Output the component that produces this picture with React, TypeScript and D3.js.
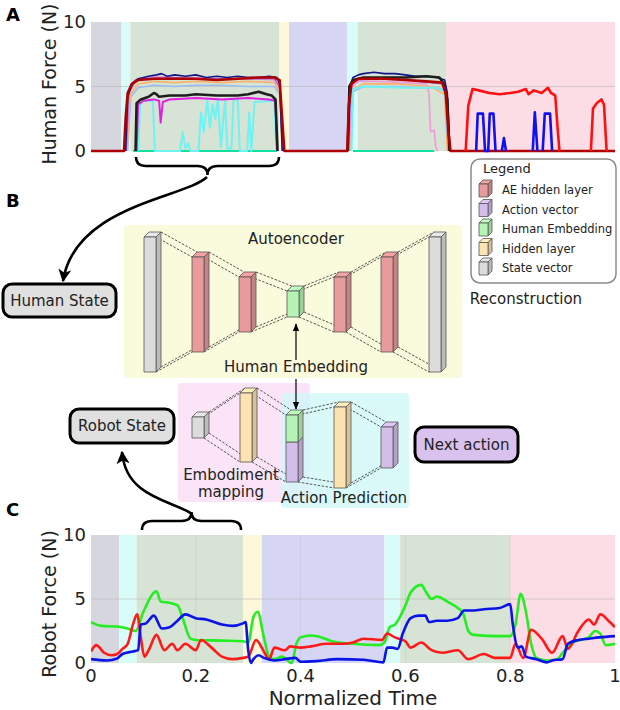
import React from 'react';
import * as d3 from 'd3';

type P = [number, number] | null;

// ---------- Panel A data (time fraction, force N) ----------
const bandEdgesA = [0, 0.058, 0.075, 0.359, 0.378, 0.489, 0.509, 0.678, 1];
const bandEdgesC = [0, 0.054, 0.087, 0.29, 0.326, 0.56, 0.59, 0.8, 1];
const phaseColors = ['#d6d6de', '#d8fcf7', '#d7e3d4', '#fcf8d9', '#d6d5f4', '#d8fcf7', '#d7e3d4', '#fddde5'];
const yTicks = [0, 5, 10];
const xTicksC = [0, 0.2, 0.4, 0.6, 0.8, 1];
const xTickLabelsC = ['0', '0.2', '0.4', '0.6', '0.8', '1'];

const navyA: P[] = [[0.066,0],[0.07,4.2],[0.08,5.3],[0.09,5.6],[0.1,5.7],[0.11,5.8],[0.125,5.9],[0.135,6.0],[0.145,5.8],[0.16,5.9],[0.18,5.8],[0.2,5.9],[0.22,5.7],[0.24,5.8],[0.26,5.7],[0.28,5.8],[0.3,5.7],[0.32,5.7],[0.34,5.8],[0.355,5.7],[0.36,5.2],[0.365,0],null,[0.49,0],[0.494,5.0],[0.5,5.7],[0.51,5.9],[0.52,6.0],[0.54,6.1],[0.56,6.0],[0.58,6.0],[0.6,5.9],[0.62,5.8],[0.64,5.8],[0.66,5.7],[0.675,5.5],[0.68,4.5],[0.685,0]];
const purpleA: P[] = [[0.067,0],[0.072,4.5],[0.085,5.5],[0.1,5.6],[0.15,5.7],[0.2,5.6],[0.25,5.6],[0.3,5.6],[0.35,5.6],[0.36,5.0],[0.366,0],null,[0.491,0],[0.496,5.0],[0.505,5.5],[0.55,5.6],[0.6,5.5],[0.65,5.3],[0.675,5.2],[0.682,0]];
const pinkA: P[] = [[0.068,0],[0.073,4.6],[0.09,5.6],[0.12,5.8],[0.16,5.7],[0.2,5.7],[0.25,5.6],[0.3,5.6],[0.35,5.5],[0.36,4.8],[0.366,0],null,[0.493,0],[0.498,4.9],[0.51,5.4],[0.55,5.4],[0.6,5.3],[0.64,5.2],[0.645,4.5],[0.648,1.5],[0.655,1.6],[0.658,0.3],[0.662,0]];
const orangeA: P[] = [[0.069,0],[0.075,4.4],[0.09,5.2],[0.12,5.4],[0.16,5.3],[0.2,5.4],[0.25,5.3],[0.3,5.4],[0.35,5.3],[0.36,4.6],[0.366,0],null,[0.494,0],[0.5,4.8],[0.52,5.2],[0.58,5.2],[0.62,5.1],[0.65,5.0],[0.665,4.6],[0.675,4.4],[0.68,0]];
const lightBlueA: P[] = [[0.07,0],[0.076,4.2],[0.09,4.9],[0.12,5.1],[0.16,5.0],[0.2,5.1],[0.25,5.1],[0.3,5.0],[0.35,5.0],[0.36,4.4],[0.366,0],null,[0.496,0],[0.5,4.6],[0.52,5.0],[0.58,5.0],[0.62,4.9],[0.66,4.9],[0.675,4.7],[0.683,0]];
const blackA: P[] = [[0.085,0],[0.087,3.7],[0.095,4.0],[0.11,4.2],[0.12,4.5],[0.125,4.4],[0.13,4.2],[0.15,4.3],[0.18,4.3],[0.2,4.4],[0.24,4.3],[0.28,4.3],[0.3,4.4],[0.32,4.6],[0.335,4.4],[0.345,4.3],[0.352,4.0],[0.356,0],null,[0.49,0],[0.493,5.0],[0.5,5.5],[0.52,5.7],[0.56,5.7],[0.6,5.7],[0.64,5.8],[0.665,5.7],[0.672,5.3],[0.68,4.0],[0.684,0]];
const magentaA: P[] = [[0.087,0],[0.09,3.6],[0.1,3.9],[0.12,4.0],[0.13,3.9],[0.133,2.2],[0.137,3.8],[0.15,4.0],[0.2,4.1],[0.25,4.0],[0.3,4.1],[0.34,4.0],[0.352,3.9],[0.355,0]];
const cyanA: P[] = [[0.09,0],[0.094,3.6],[0.1,3.9],[0.118,3.9],[0.122,0],[0.17,0],[0.175,1.5],[0.18,0.2],[0.185,0.6],[0.19,0],[0.205,0],[0.21,3.0],[0.215,1.5],[0.222,3.9],[0.227,1.8],[0.232,3.6],[0.237,2.5],[0.242,4.0],[0.248,0.3],[0.256,4.0],[0.26,0.2],[0.268,0.2],[0.272,4.0],[0.28,4.0],[0.284,0],[0.298,0],[0.302,3.0],[0.306,0],[0.312,3.8],[0.35,3.9],[0.354,0],null,[0.497,0],[0.5,4.8],[0.52,5.0],[0.6,4.9],[0.66,4.9],[0.676,4.6],[0.683,0]];
const aquaA: P[] = [[0.08,0],[0.355,0],null,[0.5,0],[0.655,0]];
const darkRedA: P[] = [[0,0],[0.063,0],[0.066,2.5],[0.07,4.5],[0.078,5.2],[0.09,5.5],[0.12,5.6],[0.16,5.6],[0.2,5.6],[0.24,5.5],[0.28,5.6],[0.32,5.7],[0.35,5.7],[0.36,5.5],[0.364,3.0],[0.369,0],[0.489,0],[0.492,3.5],[0.497,5.2],[0.51,5.6],[0.56,5.6],[0.6,5.5],[0.64,5.4],[0.67,5.3],[0.677,4.5],[0.682,1.5],[0.686,0],[1,0]];
const redA: P[] = [[0.715,0],[0.72,3.5],[0.728,4.8],[0.74,4.7],[0.76,4.5],[0.78,4.4],[0.8,4.5],[0.815,4.6],[0.83,4.8],[0.835,4.4],[0.845,4.7],[0.86,4.5],[0.872,4.9],[0.878,4.5],[0.886,4.3],[0.89,2.0],[0.894,0],null,[0.954,0],[0.958,3.3],[0.965,3.7],[0.974,4.0],[0.979,3.6],[0.984,0]];
const blueA: P[] = [[0.735,0],[0.738,2.9],[0.748,2.9],[0.752,0],[0.758,0],[0.761,2.9],[0.768,2.9],[0.772,0],null,[0.784,0],[0.788,1.0],[0.792,0],null,[0.843,0],[0.847,3.0],[0.852,0],null,[0.862,0],[0.866,2.9],[0.876,2.9],[0.88,0]];

// ---------- Panel C data ----------
const greenC: P[] = [[0,3.2],[0.02,2.9],[0.05,2.85],[0.07,2.7],[0.085,2.5],[0.1,4.0],[0.125,5.6],[0.133,4.8],[0.15,4.7],[0.165,4.5],[0.175,3.5],[0.19,1.9],[0.2,1.8],[0.25,1.75],[0.29,1.7],[0.3,1.6],[0.31,3.6],[0.318,4.0],[0.33,2.0],[0.34,0.5],[0.35,0.3],[0.365,0.5],[0.383,0.0],[0.392,1.5],[0.4,2.0],[0.42,2.15],[0.44,2.0],[0.46,1.7],[0.5,1.5],[0.55,1.4],[0.56,1.6],[0.57,2.8],[0.58,3.0],[0.6,4.5],[0.61,5.5],[0.63,6.1],[0.64,5.5],[0.65,5.0],[0.66,5.2],[0.68,4.8],[0.7,4.3],[0.71,3.9],[0.72,2.5],[0.73,2.2],[0.78,2.1],[0.8,2.1],[0.81,3.0],[0.82,5.4],[0.83,4.0],[0.84,1.5],[0.85,0.4],[0.87,0.2],[0.89,0.3],[0.9,0.8],[0.92,1.6],[0.95,2.0],[0.962,2.5],[0.972,2.3],[0.982,1.4],[1,1.5]];
const blueC: P[] = [[0,0.3],[0.03,0.2],[0.05,0.35],[0.06,0.7],[0.08,0.9],[0.09,1.0],[0.095,3.0],[0.105,3.1],[0.12,3.7],[0.135,2.7],[0.15,2.8],[0.165,3.3],[0.18,3.8],[0.2,3.5],[0.22,3.4],[0.25,3.0],[0.27,2.9],[0.29,3.1],[0.295,3.2],[0.3,1.0],[0.305,0.0],[0.31,0.3],[0.32,0.6],[0.33,0.4],[0.35,0.2],[0.37,0.3],[0.39,0.4],[0.4,0.1],[0.43,0.15],[0.47,0.3],[0.52,0.25],[0.558,0.05],[0.565,1.2],[0.575,1.2],[0.585,1.1],[0.595,2.3],[0.61,3.5],[0.625,3.7],[0.638,3.7],[0.645,3.2],[0.66,3.3],[0.68,3.3],[0.7,3.5],[0.712,4.1],[0.73,4.1],[0.75,4.2],[0.78,4.3],[0.8,4.6],[0.805,3.0],[0.815,1.2],[0.822,1.3],[0.83,0.5],[0.85,0.3],[0.87,0.05],[0.88,0.2],[0.9,0.3],[0.91,1.5],[0.93,1.8],[0.95,1.9],[0.97,2.0],[1,2.1]];
const redC: P[] = [[0,0.9],[0.01,1.4],[0.025,0.8],[0.04,0.6],[0.05,0.7],[0.06,1.1],[0.07,1.5],[0.08,3.0],[0.088,3.8],[0.095,2.0],[0.102,0.5],[0.11,1.0],[0.125,2.2],[0.14,1.0],[0.155,1.5],[0.165,1.0],[0.18,1.5],[0.2,1.0],[0.21,1.8],[0.23,1.2],[0.25,0.5],[0.27,0.3],[0.29,0.4],[0.3,0.5],[0.315,1.8],[0.33,0.9],[0.34,0.3],[0.35,1.2],[0.37,1.0],[0.38,1.3],[0.4,1.2],[0.42,1.3],[0.45,1.5],[0.48,1.5],[0.5,1.6],[0.52,1.9],[0.555,1.8],[0.565,2.3],[0.58,2.0],[0.6,1.7],[0.61,1.2],[0.63,1.6],[0.65,1.0],[0.67,0.8],[0.7,1.0],[0.72,0.3],[0.75,0.7],[0.77,0.4],[0.8,0.4],[0.81,1.5],[0.825,0.4],[0.84,2.6],[0.86,1.9],[0.88,0.8],[0.9,2.1],[0.91,1.1],[0.93,2.5],[0.95,3.4],[0.96,3.0],[0.972,3.8],[0.99,3.2],[1,2.8]];

// ---------- Legend ----------
const legendLabels = ['AE hidden layer', 'Action vector', 'Human Embedding', 'Hidden layer', 'State vector'];
const C_RED = '#e99a9c', C_PURPLE = '#d3bdea', C_GREEN = '#b5f4b5', C_YELLOW = '#fce3b1', C_GREY = '#dcdcdc';
const legendColors = [C_RED, C_PURPLE, C_GREEN, C_YELLOW, C_GREY];

const FONT = 'DejaVu Sans, sans-serif';

const xA = d3.scaleLinear().domain([0, 1]).range([91, 615]);
const yA = d3.scaleLinear().domain([0, 10]).range([151, 22]);
const xC = d3.scaleLinear().domain([0, 1]).range([91, 615]);
const yC = d3.scaleLinear().domain([0, 10]).range([663, 535]);

const lineA = d3.line<any>().defined((d) => d != null).x((d) => xA(d[0])).y((d) => yA(d[1]));
const lineC = d3.line<any>().defined((d) => d != null).x((d) => xC(d[0])).y((d) => yC(d[1])).curve(d3.curveMonotoneX);

function Box({ x, y, w, h, d, fill }: any) {
  const side = d3.color(fill)!.darker(0.45).toString();
  const top = d3.color(fill)!.brighter(0.15).toString();
  return (
    <g stroke="#555" strokeWidth={0.8} strokeLinejoin="round">
      <polygon points={`${x},${y} ${x + d},${y - d} ${x + w + d},${y - d} ${x + w},${y}`} fill={top} />
      <polygon points={`${x + w},${y} ${x + w + d},${y - d} ${x + w + d},${y + h - d} ${x + w},${y + h}`} fill={side} />
      <rect x={x} y={y} width={w} height={h} fill={fill} />
    </g>
  );
}

function Conn({ a, b, d }: any) {
  const segs = [
    [a.x + a.w, a.y, b.x, b.y],
    [a.x + a.w + d, a.y - d, b.x + d, b.y - d],
    [a.x + a.w, a.y + a.h, b.x, b.y + b.h],
    [a.x + a.w + d, a.y + a.h - d, b.x + d, b.y + b.h - d],
  ];
  return (
    <g stroke="#444" strokeWidth={0.9} strokeDasharray="2.5,1.5">
      {segs.map((s, i) => <line key={i} x1={s[0]} y1={s[1]} x2={s[2]} y2={s[3]} />)}
    </g>
  );
}

function brace(x1: number, x2: number, y0: number, dir: number) {
  const xm = (x1 + x2) / 2;
  const y1 = y0 + dir * 9;
  const y2 = y0 + dir * 18;
  const r = 10;
  return `M${x1},${y0} Q${x1},${y1} ${x1 + r},${y1} L${xm - r},${y1} Q${xm},${y1} ${xm},${y2} Q${xm},${y1} ${xm + r},${y1} L${x2 - r},${y1} Q${x2},${y1} ${x2},${y0}`;
}

function Bands({ edges, x, top, bottom }: any) {
  return (
    <g>
      {phaseColors.map((c, i) => (
        <rect key={i} x={x(edges[i])} y={top} width={x(edges[i + 1]) - x(edges[i])} height={bottom - top} fill={c} />
      ))}
    </g>
  );
}

export default function App() {
  const d = 5;
  const ae = [
    { x: 144, y: 237, w: 12, h: 135, fill: C_GREY },
    { x: 192, y: 257, w: 12, h: 95, fill: C_RED },
    { x: 239, y: 277, w: 12, h: 55, fill: C_RED },
    { x: 287, y: 291, w: 12, h: 26, fill: C_GREEN },
    { x: 334, y: 277, w: 12, h: 55, fill: C_RED },
    { x: 381, y: 257, w: 12, h: 95, fill: C_RED },
    { x: 429, y: 237, w: 12, h: 135, fill: C_GREY },
  ];
  const lgGrey = { x: 192, y: 417, w: 12, h: 21, fill: C_GREY };
  const lgY1 = { x: 240, y: 393, w: 12, h: 69, fill: C_YELLOW };
  const lgGreen = { x: 286, y: 415, w: 12, h: 27, fill: C_GREEN };
  const lgPurp = { x: 286, y: 442, w: 12, h: 40, fill: C_PURPLE };
  const lgComb = { x: 286, y: 415, w: 12, h: 67 };
  const lgY2 = { x: 334, y: 407, w: 12, h: 81, fill: C_YELLOW };
  const lgOut = { x: 381, y: 427, w: 12, h: 41, fill: C_PURPLE };

  const tracesA: [P[], string, number][] = [
    [lightBlueA, '#9bbcf2', 1.6],
    [orangeA, '#f7b46c', 1.6],
    [pinkA, '#f29ad8', 1.6],
    [purpleA, '#9c6fd0', 1.6],
    [navyA, '#141488', 1.6],
    [aquaA, '#10e0a0', 2.2],
    [cyanA, '#6ef2f2', 2.0],
    [magentaA, '#e020e0', 2.0],
    [blackA, '#1e1e1e', 2.6],
    [darkRedA, '#b00000', 2.6],
    [redA, '#ff1010', 2.6],
    [blueA, '#1010f0', 2.6],
  ];

  return (
    <svg width={620} height={710} style={{ position: 'absolute', left: 0, top: 0, background: '#fff' }} fontFamily={FONT}>
      <defs>
        <marker id="bigHead" viewBox="0 0 10 10" refX="9" refY="5" markerWidth="13" markerHeight="13" markerUnits="userSpaceOnUse" orient="auto">
          <path d="M0,0 L10,5 L0,10 L2.5,5 Z" fill="#000" />
        </marker>
        <marker id="smallHead" viewBox="0 0 10 10" refX="9" refY="5" markerWidth="8" markerHeight="8" markerUnits="userSpaceOnUse" orient="auto">
          <path d="M0,1 L10,5 L0,9 Z" fill="#000" />
        </marker>
        <clipPath id="clipA"><rect x={91} y={20} width={524} height={135} /></clipPath>
        <clipPath id="clipC"><rect x={91} y={533} width={524} height={133} /></clipPath>
      </defs>

      {/* ---------- Panel A ---------- */}
      <text x={6} y={21} fontSize={18} fontWeight="bold">A</text>
      <Bands edges={bandEdgesA} x={xA} top={yA(10)} bottom={yA(0)} />
      <line x1={91} x2={615} y1={yA(5)} y2={yA(5)} stroke="#b8b8b8" strokeWidth={0.6} />
      <g clipPath="url(#clipA)" fill="none" strokeLinejoin="round">
        {tracesA.map(([data, c, w], i) => (
          <path key={i} d={lineA(data as any) || ''} stroke={c} strokeWidth={w} />
        ))}
      </g>
      {yTicks.map((t) => (
        <text key={t} x={86} y={yA(t)} dy="0.36em" textAnchor="end" fontSize={18} fill="#222">{t}</text>
      ))}
      <text transform={`translate(56,84) rotate(-90)`} textAnchor="middle" fontSize={19} fill="#222">Human Force (N)</text>
      <path d={brace(136, 279, 157, 1)} fill="none" stroke="#000" strokeWidth={2.5} />

      {/* ---------- Legend ---------- */}
      <rect x={471} y={159} width={145} height={124} rx={9} fill="#fff" stroke="#8a8a8a" strokeWidth={1.5} />
      <text x={483} y={173} fontSize={13} fill="#222">Legend</text>
      {legendLabels.map((l, i) => {
        const cy = 190 + i * 19.5;
        return (
          <g key={l}>
            <Box x={479} y={cy - 6} w={9} h={13} d={4} fill={legendColors[i]} />
            <text x={502} y={cy} dy="0.35em" fontSize={11.5} fill="#222">{l}</text>
          </g>
        );
      })}

      {/* ---------- Panel B ---------- */}
      <text x={6} y={207} fontSize={18} fontWeight="bold">B</text>
      <path d="M207,177 C185,198 75,205 63,281" fill="none" stroke="#000" strokeWidth={2.6} markerEnd="url(#bigHead)" />
      <rect x={3} y={284} width={113} height={33} rx={9} fill="#e0e0e0" stroke="#000" strokeWidth={3} />
      <text x={59.5} y={300.5} dy="0.36em" textAnchor="middle" fontSize={15} fill="#222">Human State</text>

      <rect x={124} y={225} width={338} height={153} rx={4} fill="#fafadc" />
      <text x={296} y={239} dy="0.36em" textAnchor="middle" fontSize={15} fill="#222">Autoencoder</text>
      {ae.slice(0, -1).map((a, i) => <Conn key={i} a={a} b={ae[i + 1]} d={d} />)}
      {ae.map((b, i) => <Box key={i} {...b} d={d} />)}
      <line x1={296} y1={360} x2={296} y2={324} stroke="#000" strokeWidth={1.2} markerEnd="url(#smallHead)" />
      <text x={296} y={367} dy="0.36em" textAnchor="middle" fontSize={15} fill="#222">Human Embedding</text>
      <text x={526} y={299} dy="0.36em" textAnchor="middle" fontSize={15} fill="#222">Reconstruction</text>

      {/* lower network */}
      <rect x={178} y={383} width={132} height={119} rx={4} fill="#fbe4f7" />
      <rect x={281} y={393} width={128} height={115} rx={4} fill="#cdf8f8" opacity={0.75} />
      <line x1={296} y1={379} x2={296} y2={409} stroke="#000" strokeWidth={1.2} markerEnd="url(#smallHead)" />
      <Conn a={lgGrey} b={lgY1} d={d} />
      <Conn a={lgY1} b={lgComb} d={d} />
      <Conn a={lgComb} b={lgY2} d={d} />
      <Conn a={lgY2} b={lgOut} d={d} />
      <Box {...lgGrey} d={d} />
      <Box {...lgY1} d={d} />
      <Box {...lgPurp} d={d} />
      <Box {...lgGreen} d={d} />
      <Box {...lgY2} d={d} />
      <Box {...lgOut} d={d} />
      <text x={231} y={475} dy="0.36em" textAnchor="middle" fontSize={15} fill="#222">Embodiment</text>
      <text x={231} y={492} dy="0.36em" textAnchor="middle" fontSize={15} fill="#222">mapping</text>
      <text x={344} y={498} dy="0.36em" textAnchor="middle" fontSize={15} fill="#222">Action Prediction</text>

      <rect x={70} y={409} width={104} height={34} rx={9} fill="#e0e0e0" stroke="#000" strokeWidth={3} />
      <text x={122} y={426} dy="0.36em" textAnchor="middle" fontSize={15} fill="#222">Robot State</text>
      <rect x={415} y={427} width={103} height={35} rx={9} fill="#d9c2ee" stroke="#000" strokeWidth={3} />
      <text x={466.5} y={444.5} dy="0.36em" textAnchor="middle" fontSize={15} fill="#222">Next action</text>
      <path d="M192,514 C172,500 126,498 122,452" fill="none" stroke="#000" strokeWidth={2.6} markerEnd="url(#bigHead)" />

      {/* ---------- Panel C ---------- */}
      <text x={6} y={516} fontSize={18} fontWeight="bold">C</text>
      <path d={brace(142, 241, 530, -1)} fill="none" stroke="#000" strokeWidth={2.5} />
      <Bands edges={bandEdgesC} x={xC} top={yC(10)} bottom={yC(0)} />
      {xTicksC.slice(1, -1).map((t) => (
        <line key={t} x1={xC(t)} x2={xC(t)} y1={yC(10)} y2={yC(0)} stroke="#b8b8b8" strokeWidth={0.5} opacity={0.7} />
      ))}
      <line x1={91} x2={615} y1={yC(5)} y2={yC(5)} stroke="#b8b8b8" strokeWidth={0.6} />
      <g clipPath="url(#clipC)" fill="none" strokeLinejoin="round">
        <path d={lineC(greenC as any) || ''} stroke="#22ee22" strokeWidth={2.6} />
        <path d={lineC(redC as any) || ''} stroke="#ff1a1a" strokeWidth={2.6} />
        <path d={lineC(blueC as any) || ''} stroke="#0a14e6" strokeWidth={2.6} />
      </g>
      {yTicks.map((t) => (
        <text key={t} x={86} y={yC(t)} dy="0.36em" textAnchor="end" fontSize={18} fill="#222">{t}</text>
      ))}
      {xTicksC.map((t, i) => (
        <text key={t} x={xC(t)} y={676} dy="0.36em" textAnchor="middle" fontSize={18} fill="#222">{xTickLabelsC[i]}</text>
      ))}
      <text transform={`translate(56,604) rotate(-90)`} textAnchor="middle" fontSize={19} fill="#222">Robot Force (N)</text>
      <text x={353} y={698} dy="0.36em" textAnchor="middle" fontSize={20} fill="#222">Normalized Time</text>
    </svg>
  );
}
